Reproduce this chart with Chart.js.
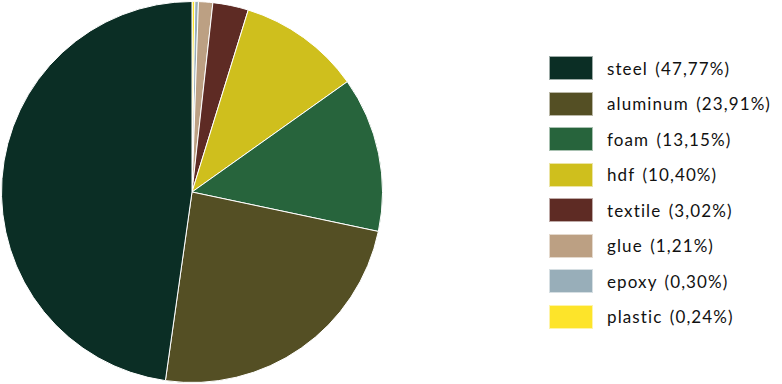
<!DOCTYPE html>
<html>
<head>
<meta charset="utf-8">
<script src="https://cdn.jsdelivr.net/npm/chart.js@4/dist/chart.umd.min.js"></script>
<style>
    body { margin: 0; background: #fff; }
    #wrap { position: relative; width: 782px; height: 384px; }
    #pieBox { position: absolute; left: 0; top: 0; width: 384px; height: 384px; }
    #legend { position: absolute; left: 549px; top: 56px; margin: 0; padding: 0; list-style: none;
              font-family: 'Lato', sans-serif; font-size: 17px; color: #111; letter-spacing: 1.1px; word-spacing: 2px;
              white-space: nowrap; }
    #legend li { height: 24px; margin-bottom: 11.5px; display: flex; align-items: center; }
    #legend span.box { width: 44px; height: 24px; margin-right: 14px; box-sizing: border-box; border: 1px solid rgba(255,255,255,0.6); }
</style>
</head>
<body>
<div id="wrap">
    <div id="pieBox"><canvas id="pie"></canvas></div>
    <ul id="legend"></ul>
</div>
<script>
// legend order (largest first)
const materials = ['steel', 'aluminum', 'foam', 'hdf', 'textile', 'glue', 'epoxy', 'plastic'];
const shares = [47.77, 23.91, 13.15, 10.40, 3.02, 1.21, 0.30, 0.24];
const colors = ['#0b2e25', '#544f24', '#27643c', '#cfbf1d', '#5e2b24', '#bca083', '#98aeb9', '#fde42a'];

// the pie runs clockwise from the top starting with the smallest slice
const pieLabels = materials.slice().reverse();
const pieValues = shares.slice().reverse();
const pieColors = colors.slice().reverse();

const fmt = v => v.toFixed(2).replace('.', ',');

const chart = new Chart(document.getElementById('pie').getContext('2d'), {
    type: 'pie',
    data: {
        labels: pieLabels,
        datasets: [{
            data: pieValues,
            backgroundColor: pieColors,
            borderColor: '#ffffff',
            borderWidth: 1
        }]
    },
    options: {
        responsive: true,
        maintainAspectRatio: false,
        animation: false,
        layout: { padding: 1 },
        plugins: {
            legend: { display: false },
            tooltip: { enabled: false }
        }
    }
});

// html legend built from the same arrays
const ul = document.getElementById('legend');
materials.forEach((m, i) => {
    const li = document.createElement('li');
    const box = document.createElement('span');
    box.className = 'box';
    box.style.background = colors[i];
    li.appendChild(box);
    li.appendChild(document.createTextNode(m + ' (' + fmt(shares[i]) + '%)'));
    ul.appendChild(li);
});
</script>
</body>
</html>
